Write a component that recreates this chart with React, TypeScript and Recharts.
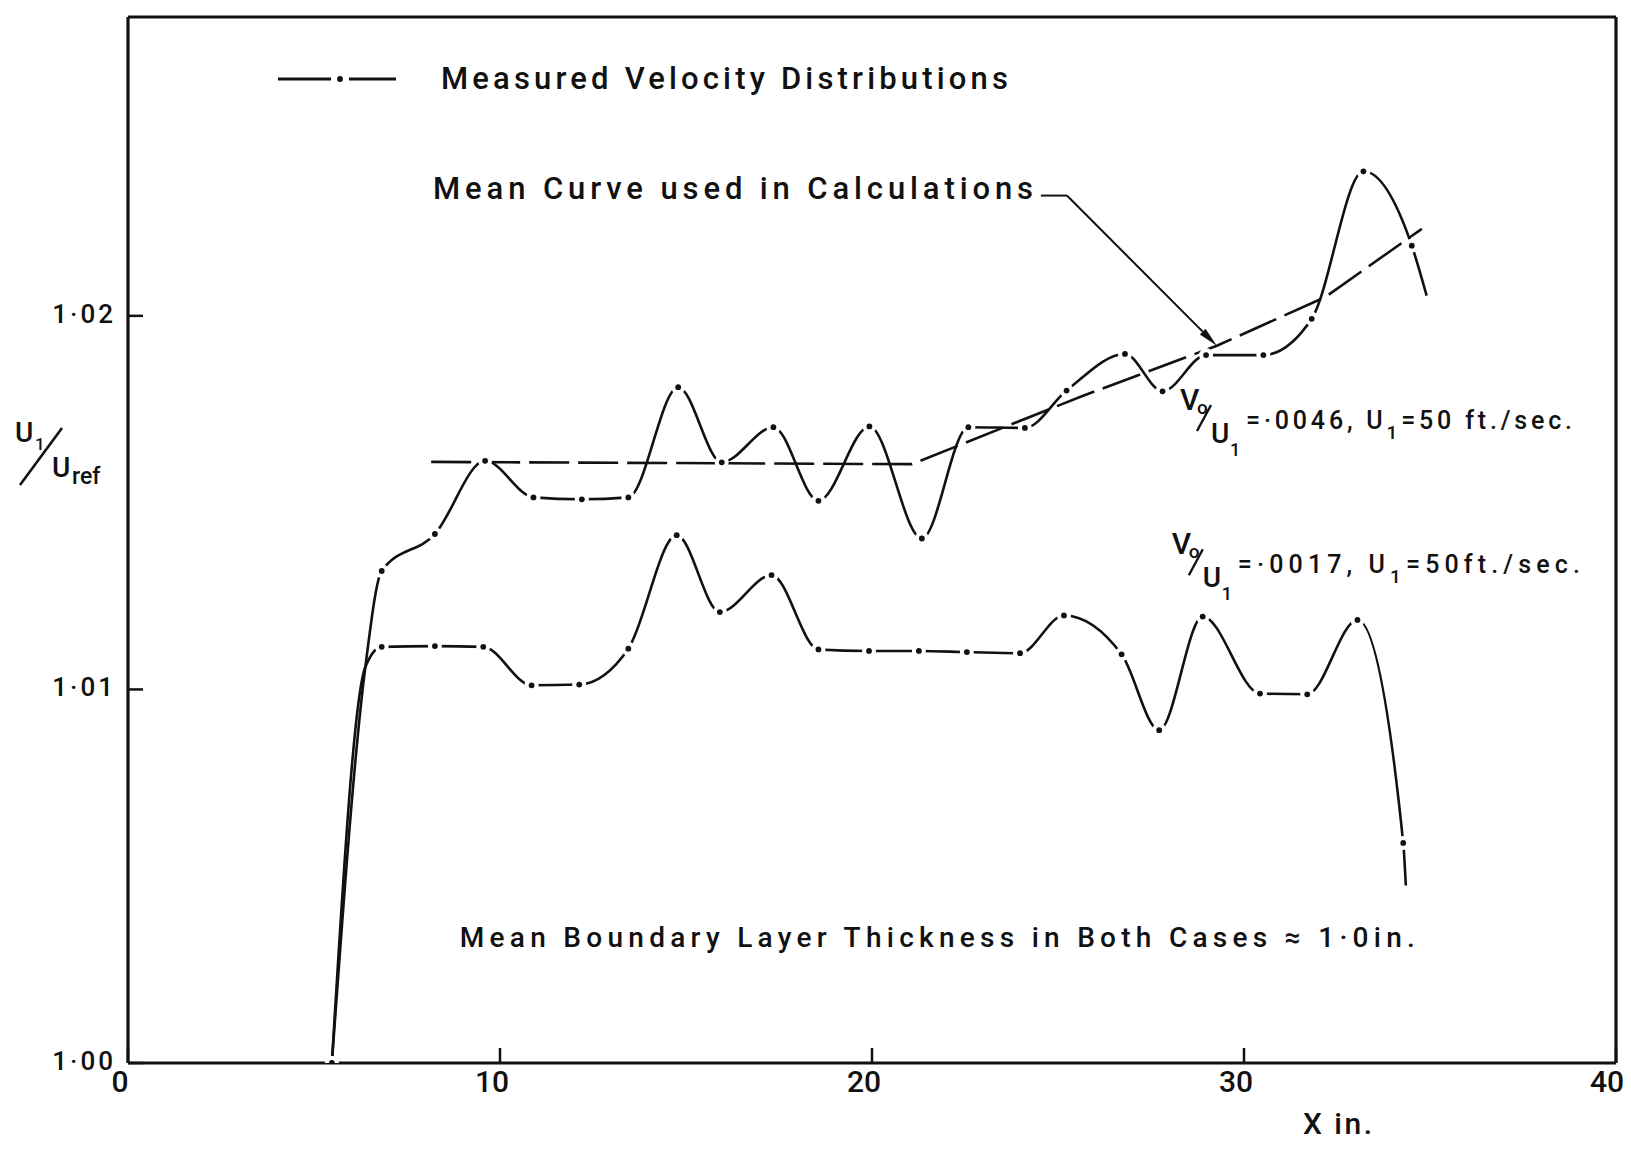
import React from "react";
import {
  LineChart,
  Line,
  XAxis,
  YAxis,
  Label,
  Legend,
  ReferenceLine,
  ReferenceDot,
} from "recharts";

const FONT = "Roboto, 'DejaVu Sans', sans-serif";
const WEIGHT = 500;
const INK = "#111";

// measured distribution, Vo/U1 = .0046
const upperX = [5.48, 6.38, 6.82, 8.25, 9.6, 10.9, 12.2, 13.45, 14.79, 15.96, 17.35, 18.56, 19.93, 21.34, 22.59, 24.11, 25.23, 26.8, 27.81, 28.98, 30.52, 31.82, 33.21, 34.51, 34.91];
const upperU = [1.0, 1.0106, 1.01317, 1.01416, 1.01612, 1.01514, 1.01509, 1.01514, 1.01809, 1.01608, 1.01702, 1.01505, 1.01704, 1.01404, 1.01702, 1.017, 1.018, 1.01898, 1.01798, 1.01895, 1.01895, 1.01992, 1.02387, 1.02188, 1.02054];

// measured distribution, Vo/U1 = .0017
const lowerX = [5.48, 6.38, 6.82, 8.25, 9.55, 10.85, 12.13, 13.45, 14.75, 15.91, 17.3, 18.56, 19.92, 21.26, 22.55, 23.98, 25.16, 26.71, 27.72, 28.89, 30.43, 31.7, 33.05, 34.28, 34.35];
const lowerU = [1.0, 1.0106, 1.01114, 1.01116, 1.01114, 1.01011, 1.01013, 1.01109, 1.01413, 1.01207, 1.01306, 1.01107, 1.01103, 1.01103, 1.011, 1.01097, 1.01198, 1.01094, 1.00891, 1.01195, 1.00989, 1.00987, 1.01186, 1.00589, 1.00475];

// points the curves pass through without a measured dot (shared rise, curve ends)
const unmarkedX = [6.38, 34.35, 34.91];

// mean curve used in calculations
const meanX = [8.15, 21.07, 25.59, 29.27, 32.18, 34.78];
const meanU = [1.01609, 1.01603, 1.01783, 1.0192, 1.0205, 1.02233];

// leader line from the "Mean Curve" note to the curve
const leaderX = [24.54, 25.24, 29.27];
const leaderU = [1.02322, 1.02322, 1.0192];

const xTicks = [0, 10, 20, 30, 40];
const xInnerTicks = [10, 20, 30];
const yTicks = [1.0, 1.01, 1.02];
const yInnerTicks = [1.01, 1.02];

const toPoints = (xs: number[], us: number[]) =>
  xs.map((x, i) => ({ x, u: us[i], bare: unmarkedX.includes(x) }));
const upperData = toPoints(upperX, upperU);
const lowerData = toPoints(lowerX, lowerU);
const meanData = toPoints(meanX, meanU);

const fmtY = (v: number) => v.toFixed(2).replace(".", "·");

function XTick(props: any) {
  const { x, y, payload } = props;
  return (
    <text x={x} y={y} dx={-8} dy={22} textAnchor="middle" fontSize={30} fontWeight={WEIGHT} fontFamily={FONT} fill={INK}>
      {payload.value}
    </text>
  );
}

function YTick(props: any) {
  const { x, y, payload } = props;
  return (
    <text x={x} y={y} dy={7} textAnchor="end" fontSize={26} fontWeight={WEIGHT} fontFamily={FONT} letterSpacing={3} fill={INK}>
      {fmtY(payload.value)}
    </text>
  );
}

// dot sitting in a small gap of the curve
const gapDot = (props: any) => {
  const { cx, cy, index, payload } = props;
  if (payload && payload.bare) return <g key={`e${index}`} />;
  return (
    <g key={`d${index}`}>
      <circle cx={cx} cy={cy} r={7} fill="#fff" />
      <circle cx={cx} cy={cy} r={2.9} fill={INK} />
    </g>
  );
};

function ArrowLine(props: any) {
  const { x1, y1, x2, y2 } = props;
  const len = Math.hypot(x2 - x1, y2 - y1) || 1;
  const dx = (x2 - x1) / len;
  const dy = (y2 - y1) / len;
  const bx = x2 - dx * 20;
  const by = y2 - dy * 20;
  return (
    <g>
      <line x1={x1} y1={y1} x2={bx} y2={by} stroke={INK} strokeWidth={2} />
      <polygon
        points={`${x2},${y2} ${bx - dy * 4},${by + dx * 4} ${bx + dy * 4},${by - dx * 4}`}
        fill={INK}
      />
    </g>
  );
}

const note = (text: string, size: number, width: number) => (props: any) => (
  <text
    x={props.cx}
    y={props.cy}
    fontSize={size}
    fontWeight={WEIGHT}
    fontFamily={FONT}
    fill={INK}
    textLength={width}
    lengthAdjust="spacing"
  >
    {text}
  </text>
);

const flowNote = (value: string, tail: string, width: number) => (props: any) => {
  const { cx, cy } = props;
  return (
    <g fontFamily={FONT} fontWeight={WEIGHT} fill={INK}>
      <text x={cx} y={cy - 19} fontSize={30}>V</text>
      <text x={cx + 17} y={cy - 15} fontSize={19}>o</text>
      <line x1={cx + 17} y1={cy + 2} x2={cx + 31} y2={cy - 24} stroke={INK} strokeWidth={2.4} />
      <text x={cx + 31} y={cy + 14} fontSize={28}>U</text>
      <text x={cx + 50} y={cy + 27} fontSize={18}>1</text>
      <text x={cx + 66} y={cy} fontSize={25} textLength={width} lengthAdjust="spacing">
        {value}
        <tspan fontSize={19} dy={10}>1</tspan>
        <tspan dy={-10}>{tail}</tspan>
      </text>
    </g>
  );
};

function YTitle() {
  return (
    <g fontFamily={FONT} fontWeight={WEIGHT} fill={INK}>
      <text x={7} y={434} fontSize={28}>U</text>
      <text x={27} y={442} fontSize={17}>1</text>
      <line x1={12} y1={477} x2={54} y2={420} stroke={INK} strokeWidth={2.6} />
      <text x={44} y={469} fontSize={28}>U</text>
      <text x={64} y={476} fontSize={23}>ref</text>
    </g>
  );
}

function XTitle() {
  return (
    <text x={1295} y={1126} fontSize={30} fontWeight={WEIGHT} fontFamily={FONT} fill={INK} textLength={69} lengthAdjust="spacing">
      X in.
    </text>
  );
}

function LegendBox() {
  return (
    <svg width={760} height={40} style={{ display: "block" }}>
      <line x1={8} y1={20} x2={61} y2={20} stroke={INK} strokeWidth={3} />
      <circle cx={70} cy={20} r={2.9} fill={INK} />
      <line x1={79} y1={20} x2={126} y2={20} stroke={INK} strokeWidth={3} />
      <text x={171} y={30} fontSize={31} fontWeight={WEIGHT} fontFamily={FONT} fill={INK} textLength={567} lengthAdjust="spacing">
        Measured Velocity Distributions
      </text>
    </svg>
  );
}

const axisLine = { stroke: INK, strokeWidth: 3.2 };
const tickLine = { stroke: INK, strokeWidth: 2.5 };

export default function App() {
  return (
    <div style={{ width: 1615, height: 1134, background: "#fff" }}>
      <LineChart width={1615} height={1134} margin={{ top: 8, right: 6, bottom: 39, left: 60 }}>
        <XAxis
          type="number"
          dataKey="x"
          domain={[0, 40]}
          ticks={xTicks}
          allowDataOverflow
          height={40}
          tickSize={-15}
          tickMargin={22}
          tick={<XTick />}
          axisLine={axisLine}
          tickLine={tickLine}
        >
          <Label content={<XTitle />} />
        </XAxis>
        <XAxis
          xAxisId="top"
          orientation="top"
          type="number"
          domain={[0, 40]}
          ticks={xInnerTicks}
          allowDataOverflow
          height={1}
          tickSize={-15}
          tick={false}
          axisLine={axisLine}
          tickLine={tickLine}
        />
        <YAxis
          type="number"
          domain={[1.0, 1.028]}
          ticks={yTicks}
          allowDataOverflow
          width={60}
          tickSize={-15}
          tickMargin={27}
          tick={<YTick />}
          axisLine={axisLine}
          tickLine={tickLine}
        >
          <Label content={<YTitle />} />
        </YAxis>
        <YAxis
          yAxisId="right"
          orientation="right"
          type="number"
          domain={[1.0, 1.028]}
          ticks={yInnerTicks}
          allowDataOverflow
          width={1}
          tickSize={-15}
          tick={false}
          axisLine={axisLine}
          tickLine={tickLine}
        />
        <Legend
          layout="horizontal"
          verticalAlign="middle"
          align="center"
          wrapperStyle={{ position: "absolute", top: 51, left: 262, width: 760, height: 40 }}
          content={<LegendBox />}
        />

        <Line
          data={meanData}
          dataKey="u"
          type="linear"
          stroke={INK}
          strokeWidth={2.6}
          strokeDasharray="40 9"
          dot={false}
          activeDot={false}
          isAnimationActive={false}
        />
        <Line
          data={upperData}
          dataKey="u"
          type="monotone"
          stroke={INK}
          strokeWidth={2.6}
          dot={gapDot}
          activeDot={false}
          isAnimationActive={false}
        />
        <Line
          data={lowerData}
          dataKey="u"
          type="monotone"
          stroke={INK}
          strokeWidth={2.6}
          dot={gapDot}
          activeDot={false}
          isAnimationActive={false}
        />

        <ReferenceLine
          segment={[
            { x: leaderX[0], y: leaderU[0] },
            { x: leaderX[1], y: leaderU[1] },
          ]}
          stroke={INK}
          strokeWidth={2}
          ifOverflow="visible"
        />
        <ReferenceLine
          segment={[
            { x: leaderX[1], y: leaderU[1] },
            { x: leaderX[2], y: leaderU[2] },
          ]}
          stroke={INK}
          strokeWidth={2}
          ifOverflow="visible"
          shape={ArrowLine}
        />

        <ReferenceDot x={8.2} y={1.02314} r={0} ifOverflow="visible" shape={note("Mean Curve used in Calculations", 31, 600)} />
        <ReferenceDot x={8.92} y={1.00311} r={0} ifOverflow="visible" shape={note("Mean Boundary Layer Thickness in Both Cases ≈ 1·0in.", 28, 955)} />
        <ReferenceDot x={28.28} y={1.01697} r={0} ifOverflow="visible" shape={flowNote("=·0046, U", "=50 ft./sec.", 326)} />
        <ReferenceDot x={28.06} y={1.01311} r={0} ifOverflow="visible" shape={flowNote("=·0017,  U", "=50ft./sec.", 342)} />
      </LineChart>
    </div>
  );
}
